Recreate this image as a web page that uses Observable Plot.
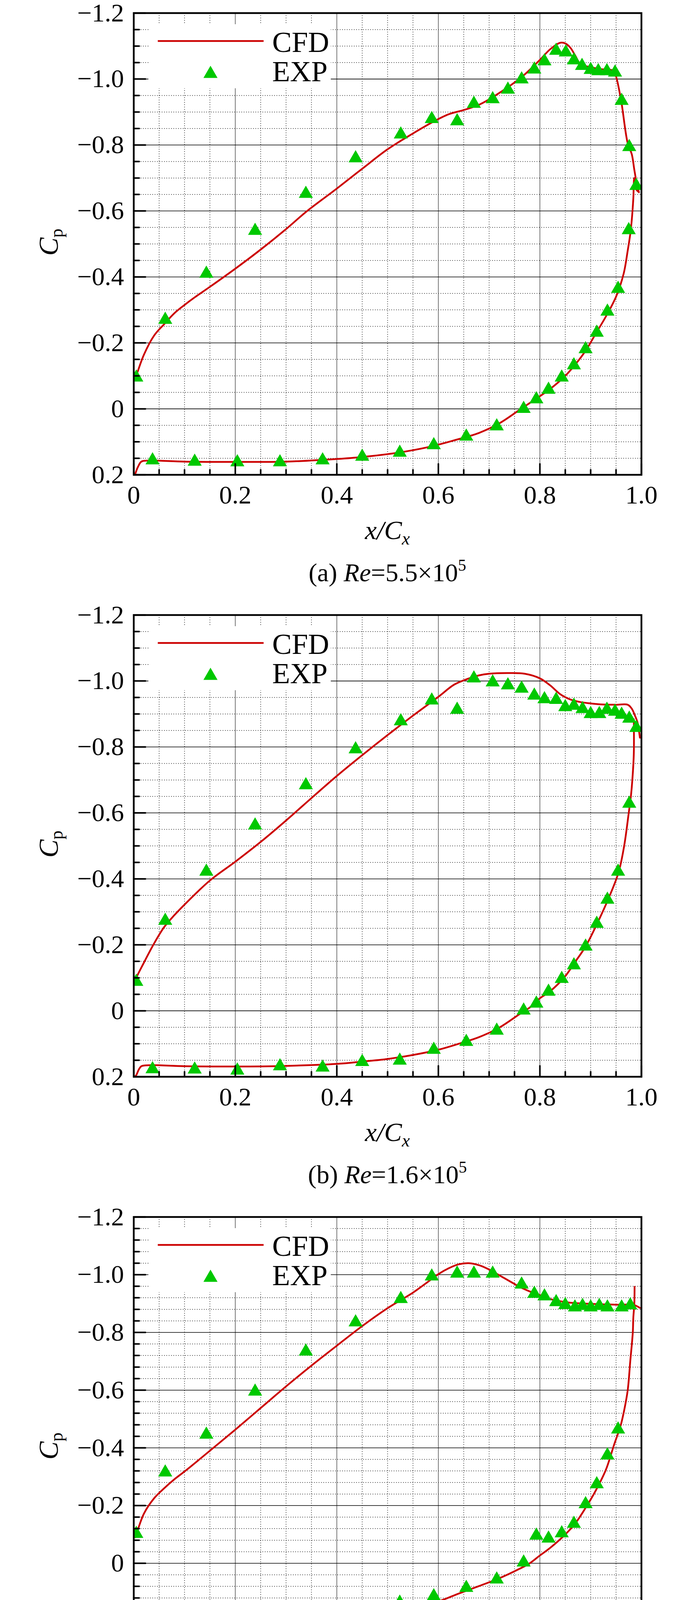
<!DOCTYPE html>
<html><head><meta charset="utf-8">
<script src="https://cdn.jsdelivr.net/npm/d3@7"></script>
<script src="https://cdn.jsdelivr.net/npm/@observablehq/plot@0.6"></script>
<style>html,body{margin:0;padding:0;background:#fff;} svg{display:block}</style>
</head><body><div id="root"></div>
<script>
// ---------- Panel (a) Re = 5.5e5 ----------
const cfdA_upX  = [0.003,0.005,0.02,0.04,0.06,0.08,0.1,0.12,0.15,0.2,0.25,0.3,0.34,0.4,0.45,0.5,0.55,0.587,0.62,0.65,0.68,0.707,0.764,0.8,0.82,0.84,0.85,0.86,0.87,0.88,0.9,0.92,0.945,0.95,0.96,0.973,0.981,0.986,0.99,0.995];
const cfdA_upCp = [-0.09,-0.10,-0.164,-0.222,-0.257,-0.29,-0.315,-0.338,-0.37,-0.425,-0.483,-0.545,-0.598,-0.668,-0.728,-0.787,-0.835,-0.868,-0.893,-0.906,-0.922,-0.945,-1.006,-1.058,-1.09,-1.11,-1.108,-1.095,-1.07,-1.045,-1.036,-1.03,-1.025,-1.008,-0.935,-0.805,-0.772,-0.725,-0.69,-0.657];
const cfdA_loX  = [0.995,0.99,0.986,0.984,0.981,0.978,0.973,0.965,0.95,0.93,0.91,0.89,0.87,0.85,0.82,0.79,0.76,0.72,0.68,0.63,0.58,0.52,0.45,0.4,0.3,0.2,0.1,0.03,0.015,0.008,0.003,0.001];
const cfdA_loCp = [-0.657,-0.665,-0.70,-0.637,-0.573,-0.53,-0.48,-0.41,-0.34,-0.28,-0.228,-0.176,-0.135,-0.10,-0.06,-0.028,0.003,0.044,0.073,0.096,0.116,0.133,0.146,0.152,0.16,0.161,0.16,0.157,0.16,0.177,0.197,0.205];
const expA_x  = [0.005,0.062,0.143,0.239,0.339,0.437,0.526,0.587,0.637,0.670,0.707,0.737,0.764,0.789,0.809,0.832,0.851,0.867,0.883,0.900,0.915,0.932,0.948,0.961,0.976,0.990,0.975,0.954,0.933,0.912,0.890,0.867,0.843,0.817,0.793,0.768,0.715,0.655,0.591,0.524,0.450,0.372,0.288,0.204,0.120,0.037];
const expA_cp = [-0.095,-0.27,-0.41,-0.54,-0.652,-0.76,-0.832,-0.879,-0.872,-0.925,-0.939,-0.968,-0.999,-1.029,-1.054,-1.086,-1.081,-1.057,-1.040,-1.028,-1.024,-1.024,-1.020,-0.934,-0.794,-0.676,-0.542,-0.364,-0.295,-0.231,-0.181,-0.132,-0.095,-0.058,-0.029,0.0,0.053,0.084,0.110,0.133,0.145,0.156,0.162,0.162,0.160,0.156];

// ---------- Panel (b) Re = 1.6e5 ----------
const cfdB_upX  = [0.003,0.005,0.02,0.04,0.06,0.08,0.1,0.15,0.2,0.25,0.3,0.35,0.4,0.45,0.5,0.55,0.6,0.63,0.65,0.68,0.7,0.74,0.77,0.8,0.82,0.84,0.86,0.88,0.9,0.92,0.95,0.973,0.981,0.987,0.992,0.997];
const cfdB_upCp = [-0.09,-0.10,-0.146,-0.204,-0.254,-0.29,-0.322,-0.395,-0.452,-0.512,-0.577,-0.645,-0.712,-0.775,-0.836,-0.895,-0.952,-0.988,-1.002,-1.017,-1.022,-1.024,-1.022,-1.008,-0.987,-0.96,-0.944,-0.936,-0.932,-0.929,-0.928,-0.928,-0.916,-0.896,-0.876,-0.828];
const cfdB_loX  = [0.985,0.985,0.982,0.979,0.975,0.966,0.955,0.935,0.912,0.89,0.868,0.85,0.82,0.8,0.78,0.76,0.72,0.68,0.64,0.6,0.55,0.5,0.45,0.4,0.3,0.2,0.1,0.03,0.015,0.01,0.005,0.002];
const cfdB_loCp = [-0.884,-0.78,-0.698,-0.647,-0.6,-0.5,-0.42,-0.34,-0.262,-0.195,-0.145,-0.105,-0.059,-0.038,-0.01,0.01,0.051,0.08,0.10,0.118,0.134,0.146,0.154,0.161,0.167,0.169,0.168,0.165,0.168,0.178,0.195,0.2];
const expB_x  = [0.005,0.062,0.143,0.239,0.339,0.437,0.526,0.587,0.637,0.670,0.707,0.737,0.764,0.789,0.809,0.832,0.850,0.867,0.884,0.900,0.917,0.932,0.948,0.961,0.976,0.990,0.976,0.954,0.933,0.912,0.890,0.867,0.843,0.817,0.793,0.768,0.715,0.655,0.591,0.524,0.450,0.372,0.288,0.204,0.120,0.037];
const expB_cp = [-0.088,-0.273,-0.422,-0.562,-0.684,-0.793,-0.878,-0.941,-0.913,-1.008,-0.996,-0.987,-0.977,-0.956,-0.945,-0.943,-0.921,-0.925,-0.915,-0.90,-0.90,-0.913,-0.907,-0.898,-0.886,-0.858,-0.628,-0.422,-0.337,-0.264,-0.195,-0.138,-0.097,-0.058,-0.022,-0.001,0.06,0.094,0.118,0.151,0.155,0.172,0.168,0.181,0.178,0.177];

// ---------- Panel (c) Re = 1.1e5 ----------
const cfdC_upX  = [0.003,0.005,0.02,0.04,0.06,0.08,0.1,0.15,0.2,0.25,0.3,0.35,0.4,0.45,0.5,0.55,0.58,0.6,0.62,0.64,0.66,0.68,0.7,0.72,0.74,0.76,0.78,0.8,0.82,0.84,0.86,0.9,0.95,0.985,0.997];
const cfdC_upCp = [-0.09,-0.10,-0.172,-0.225,-0.26,-0.291,-0.318,-0.39,-0.463,-0.538,-0.613,-0.685,-0.754,-0.822,-0.884,-0.938,-0.976,-1.002,-1.022,-1.036,-1.04,-1.033,-1.018,-0.998,-0.978,-0.958,-0.942,-0.929,-0.916,-0.908,-0.903,-0.899,-0.896,-0.895,-0.885];
const cfdC_loX  = [0.9865,0.986,0.984,0.983,0.978,0.973,0.966,0.959,0.946,0.93,0.91,0.89,0.87,0.85,0.82,0.8,0.78,0.76,0.72,0.68,0.64,0.6,0.55,0.5,0.45,0.4,0.3,0.2,0.1,0.03,0.015,0.008,0.003,0.001];
const cfdC_loCp = [-0.958,-0.9,-0.85,-0.8,-0.7,-0.6,-0.53,-0.477,-0.41,-0.324,-0.252,-0.192,-0.139,-0.1,-0.053,-0.027,0.0,0.019,0.052,0.079,0.105,0.132,0.151,0.165,0.174,0.182,0.191,0.192,0.191,0.191,0.195,0.211,0.228,0.235];
const expC_x  = [0.005,0.062,0.143,0.239,0.339,0.437,0.526,0.587,0.637,0.670,0.707,0.764,0.789,0.809,0.832,0.850,0.869,0.884,0.900,0.917,0.933,0.961,0.978,0.954,0.933,0.912,0.890,0.867,0.843,0.817,0.793,0.768,0.715,0.655,0.591,0.524,0.450,0.372,0.288,0.204,0.120,0.037];
const expC_cp = [-0.102,-0.315,-0.446,-0.595,-0.734,-0.835,-0.916,-0.994,-1.004,-1.004,-1.004,-0.966,-0.934,-0.925,-0.905,-0.895,-0.887,-0.892,-0.887,-0.892,-0.887,-0.887,-0.894,-0.464,-0.374,-0.274,-0.205,-0.137,-0.104,-0.086,-0.096,-0.003,0.056,0.085,0.114,0.136,0.158,0.155,0.155,0.175,0.155,0.182];

// ---------- axes ----------
const xTicks  = [0, 0.2, 0.4, 0.6, 0.8, 1.0];
const xTickLabels = ["0", "0.2", "0.4", "0.6", "0.8", "1.0"];
const yTicksAB = [-1.2, -1.0, -0.8, -0.6, -0.4, -0.2, 0, 0.2];
const yTickLabelsAB = ["−1.2", "−1.0", "−0.8", "−0.6", "−0.4", "−0.2", "0", "0.2"];
const yTicksC = [-1.2, -1.0, -0.8, -0.6, -0.4, -0.2, 0, 0.2, 0.4];
const yTickLabelsC = ["−1.2", "−1.0", "−0.8", "−0.6", "−0.4", "−0.2", "0", "0.2", "0.4"];
const panelLetters = ["a", "b", "c"];
const reMantissa = ["5.5", "1.6", "1.1"];
const seriesNames = ["CFD", "EXP"];

const SERIF = "'Liberation Serif','Times New Roman',serif";
const RED = "#cc0000", GREEN = "#00c800";
const L = 342, R = 1642, T = 33, PH = 1182;

function minors(lo, hi, step, majors) {
  const n = Math.round((hi - lo) / step);
  return d3.range(n + 1).map(i => +(lo + i * step).toFixed(4))
    .filter(v => !majors.some(m => Math.abs(m - v) < 1e-6));
}
const tickLine = {draw(ctx, l) { ctx.moveTo(0, 0); ctx.lineTo(0, -l); }};
const zip = (xs, ys) => xs.map((x, i) => ({x, cp: ys[i]}));

function makePanel(k, cfg) {
  const upper = zip(cfg.upX, cfg.upCp), lower = zip(cfg.loX, cfg.loCp), exp = zip(cfg.eX, cfg.eCp);
  const xMin = minors(0, 1, 0.05, xTicks);
  const yMin = minors(cfg.yTicks[0], cfg.yTicks[cfg.yTicks.length - 1], cfg.yStep, cfg.yTicks);
  const plot = Plot.plot({
    width: 1772, height: cfg.height,
    marginTop: T, marginLeft: L, marginRight: 1772 - R, marginBottom: cfg.height - T - PH,
    x: {domain: [0, 1], axis: null},
    y: {domain: [cfg.yTicks[0], cfg.yTicks[cfg.yTicks.length - 1]], reverse: true, axis: null},
    style: {background: "white", overflow: "visible"},
    marks: [
      Plot.ruleX(xMin, {x: d => d, stroke: "#222", strokeWidth: 1.5, strokeDasharray: "2,4"}),
      Plot.ruleY(yMin, {y: d => d, stroke: "#222", strokeWidth: 1.5, strokeDasharray: "2,4"}),
      Plot.ruleX(xTicks.slice(1, -1), {x: d => d, stroke: "#555", strokeWidth: 1.6}),
      Plot.ruleY(cfg.yTicks.slice(1, -1), {y: d => d, stroke: "#000", strokeWidth: 1.6}),
      Plot.line(upper, {x: "x", y: "cp", stroke: RED, strokeWidth: 4.5, curve: "catmull-rom", clip: true}),
      Plot.line(lower, {x: "x", y: "cp", stroke: RED, strokeWidth: 4.5, curve: "catmull-rom", clip: true}),
      Plot.dot(exp, {x: "x", y: "cp", symbol: "triangle", r: 13.4, fill: GREEN, stroke: "none", clip: true}),
      Plot.vector(xTicks, {x: d => d, frameAnchor: "bottom", length: 28, rotate: 0, anchor: "start", shape: tickLine, stroke: "#000", strokeWidth: 4}),
      Plot.vector(xMin, {x: d => d, frameAnchor: "bottom", length: 13, rotate: 0, anchor: "start", shape: tickLine, stroke: "#000", strokeWidth: 4}),
      Plot.vector(cfg.yTicks, {y: d => d, frameAnchor: "left", length: 30, rotate: 90, anchor: "start", shape: tickLine, stroke: "#000", strokeWidth: 4}),
      Plot.vector(yMin, {y: d => d, frameAnchor: "left", length: 14, rotate: 90, anchor: "start", shape: tickLine, stroke: "#000", strokeWidth: 4}),
      Plot.text(xTicks, {x: d => d, text: (d, i) => xTickLabels[i], frameAnchor: "bottom", dy: 73, lineAnchor: "bottom", fontSize: 66, fontFamily: SERIF, fill: "#000"}),
      Plot.text(cfg.yTicks, {y: d => d, text: (d, i) => cfg.yLabels[i], frameAnchor: "left", dx: -25, textAnchor: "end", lineAnchor: "middle", fontSize: 66, fontFamily: SERIF, fill: "#000"}),
      Plot.frame({stroke: "#000", strokeWidth: 4.5})
    ]
  });
  const svg = d3.select(plot);
  // legend
  const lg = svg.append("g").attr("text-anchor", "start");
  lg.append("rect").attr("x", L + 38).attr("y", T + 29).attr("width", 467).attr("height", 164).attr("fill", "#fff");
  lg.append("line").attr("x1", 404).attr("x2", 675).attr("y1", T + 72).attr("y2", T + 72).attr("stroke", RED).attr("stroke-width", 4.5);
  lg.append("path").attr("d", d3.symbol(d3.symbolTriangle, 13.4 * 13.4 * Math.PI)()).attr("transform", `translate(539,${T + 156})`).attr("fill", GREEN);
  lg.append("text").attr("x", 697).attr("y", T + 100).attr("text-anchor", "start").attr("font-family", SERIF).attr("font-size", 75).text(seriesNames[0]);
  lg.append("text").attr("x", 697).attr("y", T + 175).attr("text-anchor", "start").attr("font-family", SERIF).attr("font-size", 75).text(seriesNames[1]);
  // x label
  const xl = svg.append("text").attr("x", (L + R) / 2).attr("y", 1380).attr("text-anchor", "middle").attr("font-family", SERIF).attr("font-size", 68);
  xl.append("tspan").attr("font-style", "italic").text("x/C");
  xl.append("tspan").attr("font-style", "italic").attr("font-size", 46).attr("dy", 14).text("x");
  // y label
  const yl = svg.append("text").attr("transform", `translate(148,${T + PH / 2 - 4}) rotate(-90)`).attr("text-anchor", "middle").attr("font-family", SERIF).attr("font-size", 70);
  yl.append("tspan").attr("font-style", "italic").text("C");
  yl.append("tspan").attr("font-size", 46).attr("dy", 12).text("p");
  // caption
  const cap = svg.append("text").attr("x", (L + R) / 2).attr("y", 1488).attr("text-anchor", "middle").attr("font-family", SERIF).attr("font-size", 66);
  cap.append("tspan").text(`(${panelLetters[k]}) `);
  cap.append("tspan").attr("font-style", "italic").text("Re");
  cap.append("tspan").text(`=${reMantissa[k]}×10`);
  cap.append("tspan").attr("font-size", 42).attr("dy", -27).text("5");
  return plot;
}

const root = document.getElementById("root");
root.append(makePanel(0, {upX: cfdA_upX, upCp: cfdA_upCp, loX: cfdA_loX, loCp: cfdA_loCp, eX: expA_x, eCp: expA_cp, yTicks: yTicksAB, yLabels: yTickLabelsAB, yStep: 0.05, height: 1541}));
root.append(makePanel(1, {upX: cfdB_upX, upCp: cfdB_upCp, loX: cfdB_loX, loCp: cfdB_loCp, eX: expB_x, eCp: expB_cp, yTicks: yTicksAB, yLabels: yTickLabelsAB, yStep: 0.05, height: 1541}));
root.append(makePanel(2, {upX: cfdC_upX, upCp: cfdC_upCp, loX: cfdC_loX, loCp: cfdC_loCp, eX: expC_x, eCp: expC_cp, yTicks: yTicksC, yLabels: yTickLabelsC, yStep: 0.04, height: 1508}));
</script>
</body></html>
